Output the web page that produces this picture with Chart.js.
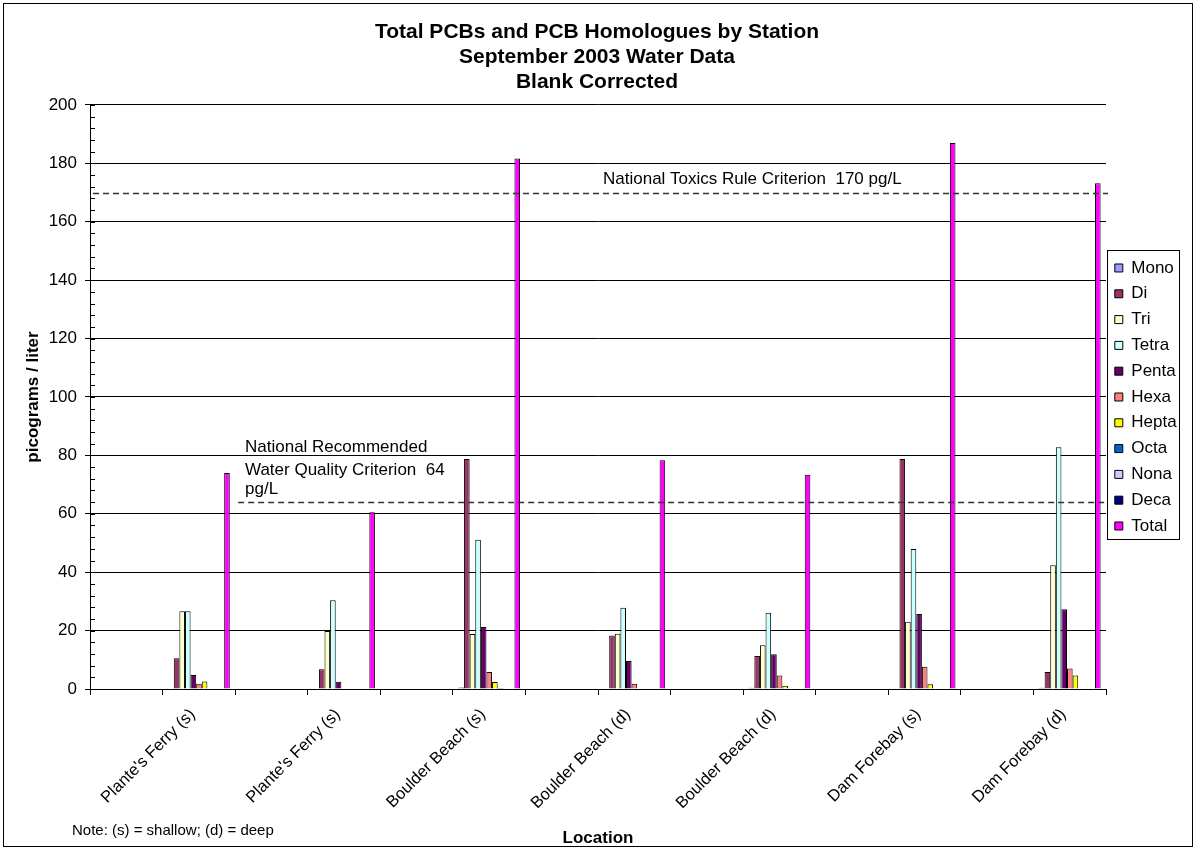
<!DOCTYPE html>
<html>
<head>
<meta charset="utf-8">
<script src="https://cdn.jsdelivr.net/npm/chart.js@4.4.0/dist/chart.umd.min.js"></script>
<style>
    html, body { margin: 0; padding: 0; background: #fff; }
</style>
</head>
<body>
<canvas id="grafico" width="1196" height="849"></canvas>
<script>
// estaciones y valores (pg/L)
const estaciones = ["Plante's Ferry (s)", "Plante's Ferry (s)", "Boulder Beach (s)", "Boulder Beach (d)",
    "Boulder Beach (d)", "Dam Forebay (s)", "Dam Forebay (d)"];
const mono  = [0, 0, 0.5, 0, 0.4, 0, 0.4];
const di    = [10.5, 6.8, 78.8, 18.3, 11.3, 78.8, 5.8];
const tri   = [26.6, 19.9, 18.8, 18.9, 15.0, 23.0, 42.4];
const tetra = [26.6, 30.4, 51.1, 27.8, 26.1, 47.9, 82.8];
const penta = [4.8, 2.5, 21.2, 9.6, 11.9, 25.7, 27.3];
const hexa  = [1.8, 0, 5.8, 1.8, 4.6, 7.6, 7.0];
const hepta = [2.6, 0, 2.4, 0, 1.1, 1.6, 4.6];
const octa  = [0, 0, 0.3, 0, 0, 0, 0];
const nona  = [0, 0, 0, 0, 0, 0, 0];
const deca  = [0, 0, 0, 0, 0, 0, 0];
const total = [74, 60.5, 181.7, 78.3, 73.4, 187, 173.2];
const yTicks = [0, 200, 20];
const criterioNTR = 170;
const criterioWQ = 64;

const series = [
    ['Mono', mono, '#9999FF'],
    ['Di', di, '#993366'],
    ['Tri', tri, '#FFFFCC'],
    ['Tetra', tetra, '#CCFFFF'],
    ['Penta', penta, '#660066'],
    ['Hexa', hexa, '#FF8080'],
    ['Hepta', hepta, '#FFFF00'],
    ['Octa', octa, '#0066CC'],
    ['Nona', nona, '#CCCCFF'],
    ['Deca', deca, '#000080'],
    ['Total', total, '#FF00FF'],
];

Chart.defaults.font.family = "'Liberation Sans', Arial, sans-serif";
Chart.defaults.color = '#000';

// huecos vacíos a la izquierda de cada grupo, como en la hoja original
const huecos = Array.from({ length: 13 }, () => ({ label: '', data: [] }));

const datasets = huecos.concat(series.map(([nombre, valores, cor]) => ({
    label: nombre,
    data: valores,
    backgroundColor: cor,
    borderColor: '#000',
    borderWidth: 1,
})));

const fondo = {
    id: 'fondo',
    beforeDraw(chart) {
        const c = chart.ctx;
        c.save();
        c.fillStyle = '#fff';
        c.fillRect(0, 0, chart.width, chart.height);
        c.restore();
    }
};

const extras = {
    id: 'extras',
    afterDatasetsDraw(chart) {
        const { ctx, chartArea, scales } = chart;
        ctx.save();
        ctx.strokeStyle = '#333';
        ctx.lineWidth = 1.5;
        ctx.setLineDash([6, 4]);
        let py = Math.round(scales.y.getPixelForValue(criterioNTR)) + 0.5;
        ctx.beginPath();
        ctx.moveTo(chartArea.left + 3, py);
        ctx.lineTo(chartArea.right + 2, py);
        ctx.stroke();
        py = Math.round(scales.y.getPixelForValue(criterioWQ)) + 0.5;
        ctx.beginPath();
        ctx.moveTo(scales.x2.getPixelForValue(2) + 3, py);
        ctx.lineTo(chartArea.right + 2, py);
        ctx.stroke();
        ctx.restore();
    },
    afterDraw(chart) {
        const { ctx, chartArea, scales } = chart;
        const y = scales.y;
        ctx.save();
        // marcas menores del eje y
        ctx.strokeStyle = '#000';
        ctx.lineWidth = 1;
        ctx.beginPath();
        for (let v = 0; v <= 200; v += 4) {
            const py = Math.round(y.getPixelForValue(v)) + 0.5;
            ctx.moveTo(chartArea.left, py);
            ctx.lineTo(chartArea.left + 5, py);
        }
        ctx.stroke();

        // textos de los criterios
        ctx.fillStyle = '#000';
        ctx.font = "17px 'Liberation Sans', Arial, sans-serif";
        ctx.textBaseline = 'alphabetic';
        ctx.textAlign = 'left';
        const yNTR = y.getPixelForValue(criterioNTR);
        ctx.fillText('National Toxics Rule Criterion  170 pg/L', 603, yNTR - 9);
        const yWQ = y.getPixelForValue(criterioWQ);
        ctx.fillText('National Recommended', 245, yWQ - 50);
        ctx.fillText('Water Quality Criterion  64', 245, yWQ - 27);
        ctx.fillText('pg/L', 245, yWQ - 8);

        // nota
        ctx.font = "15px 'Liberation Sans', Arial, sans-serif";
        ctx.fillText('Note: (s) = shallow; (d) = deep', 72, 835);

        // caja de la leyenda
        const cajas = chart.legend.legendHitBoxes;
        if (cajas.length) {
            const l = chart.legend.left + 1;
            const t = cajas[0].top - 9;
            const b = cajas[cajas.length - 1].top + cajas[cajas.length - 1].height + 5;
            const r = Math.max(...cajas.map(h => h.left + h.width)) + 2;
            ctx.lineWidth = 1;
            ctx.strokeRect(Math.round(l) + 0.5, Math.round(t) + 0.5, Math.round(r - l), Math.round(b - t));
        }

        // marco exterior
        ctx.strokeRect(3.5, 3.5, 1189, 843);
        ctx.restore();
    }
};

const ctx = document.getElementById('grafico').getContext('2d');
const grafico = new Chart(ctx, {
    type: 'bar',
    data: {
        labels: estaciones,
        datasets: datasets
    },
    plugins: [fondo, extras],
    options: {
        responsive: false,
        animation: false,
        datasets: {
            bar: {
                categoryPercentage: 0.926,
                barPercentage: 1,
            }
        },
        layout: {
            padding: { left: 10, right: 12, top: 10, bottom: 0 }
        },
        plugins: {
            title: {
                display: true,
                text: ['Total PCBs and PCB Homologues by Station', 'September 2003 Water Data', 'Blank Corrected'],
                color: '#000',
                font: { size: 21, weight: 'bold', lineHeight: 1.19 },
                padding: { top: 10, bottom: 10 },
            },
            legend: {
                position: 'right',
                fullSize: false,
                maxWidth: 78,
                labels: {
                    boxWidth: 8,
                    boxHeight: 8,
                    padding: 8.8,
                    color: '#000',
                    font: { size: 17 },
                    filter: item => item.text !== '',
                },
            },
            tooltip: { enabled: false },
        },
        scales: {
            x: {
                type: 'category',
                weight: 1,
                grid: { display: false },
                border: { display: false },
                ticks: {
                    autoSkip: false,
                    minRotation: 45,
                    maxRotation: 45,
                    labelOffset: 30,
                    padding: 2,
                    font: { size: 16.5 },
                },
                title: {
                    display: true,
                    text: 'Location',
                    font: { size: 17, weight: 'bold' },
                    padding: { top: 0, bottom: 0 },
                },
                afterFit: s => { s.height = 154; },
            },
            // marcas del eje x cada media categoría
            x2: {
                type: 'linear',
                position: 'bottom',
                weight: 0,
                offset: false,
                min: 0,
                max: 14,
                ticks: { display: false, stepSize: 1, maxTicksLimit: 20, autoSkip: false },
                grid: { offset: false, drawOnChartArea: false, tickLength: 6, color: '#000' },
                border: { color: '#000' },
                afterFit: s => { s.height = 6; },
            },
            y: {
                min: yTicks[0],
                max: yTicks[1],
                ticks: { stepSize: yTicks[2], padding: 8, font: { size: 17 } },
                grid: { color: '#000', tickLength: 5 },
                border: { color: '#000' },
                title: {
                    display: true,
                    text: 'picograms / liter',
                    font: { size: 17, weight: 'bold' },
                    padding: { top: 13, bottom: 4 },
                },
                afterFit: s => { s.width = 80; },
            },
        },
    },
});
</script>
</body>
</html>
